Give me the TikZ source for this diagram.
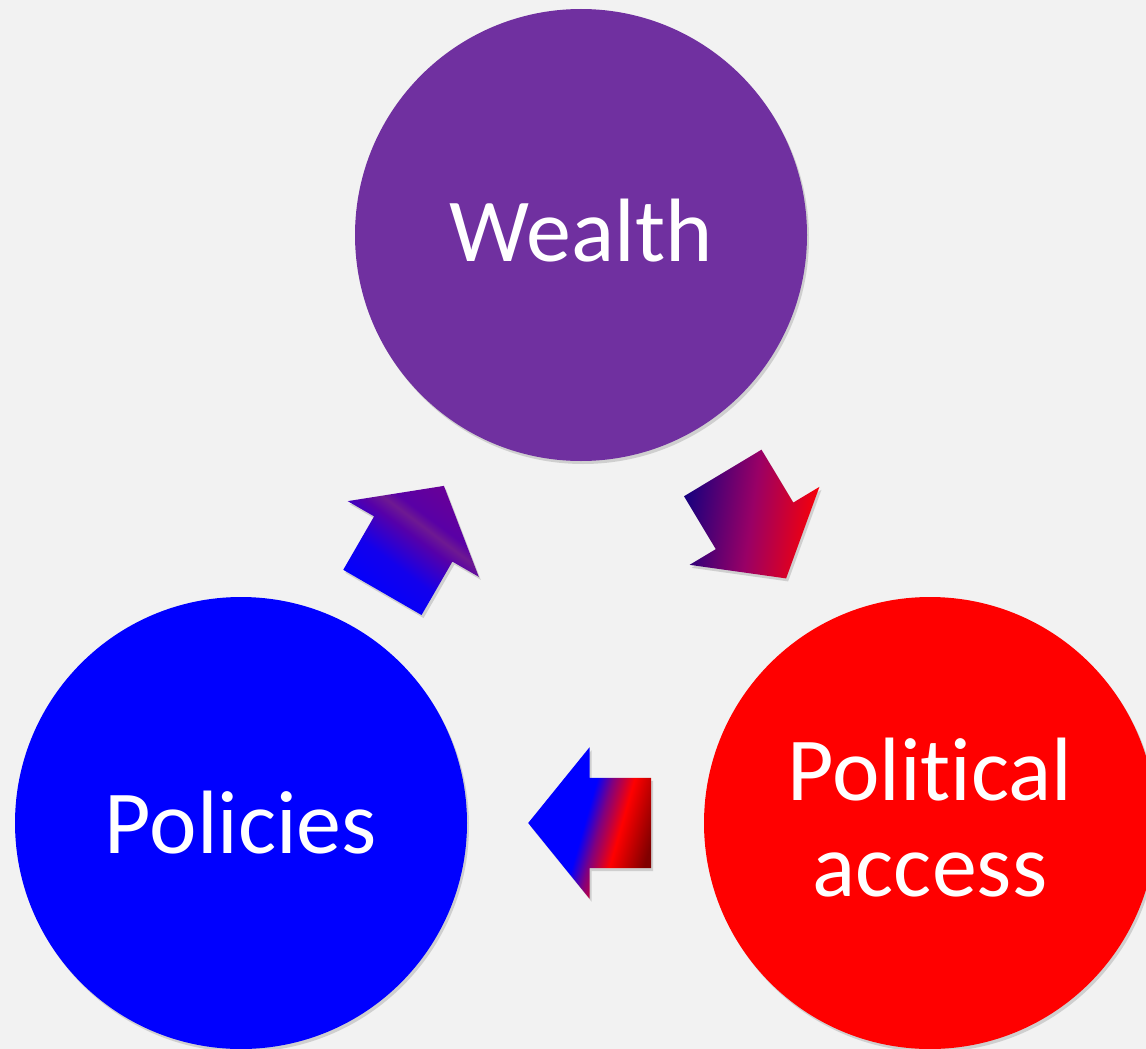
\documentclass[tikz,border=0pt]{standalone}
\usepackage{fontspec}
\setmainfont{Carlito}[Ligatures=NoCommon]
\usetikzlibrary{shapes.arrows,shadows,calc}

\definecolor{wealthpurple}{HTML}{7030A0}
\definecolor{bgray}{HTML}{F2F2F2}

% Gradients of the three arrows, from tail to tip
\pgfdeclarehorizontalshading{towealth}{100bp}{color(0bp)=(blue); color(25bp)=(blue);
    color(42bp)=(blue!85!violet); color(55bp)=(blue!55!purple); color(60bp)=(purple!55!blue!80!gray);
    color(64bp)=(violet!70!blue); color(75bp)=(violet!80!blue); color(100bp)=(violet!80!blue)}
\pgfdeclarehorizontalshading{toaccess}{100bp}{color(0bp)=(blue!55!black!90!red); color(25bp)=(blue!55!black!90!red);
    color(50bp)=(purple!80!blue); color(75bp)=(red!95!purple); color(100bp)=(red!95!purple)}
\pgfdeclarehorizontalshading{topolicies}{100bp}{color(0bp)=(red!50!black); color(25bp)=(red!50!black);
    color(38bp)=(red); color(46bp)=(blue!50!red); color(52bp)=(blue); color(100bp)=(blue)}

\begin{document}
\begin{tikzpicture}[x=1pt,y=-1pt,
    stage/.style={circle,minimum size=452pt,inner sep=0pt,text=white,align=center,
        font=\fontsize{90}{96}\selectfont,
        drop shadow={shadow xshift=2pt,shadow yshift=-3pt,opacity=0.3}},
    flow/.style={single arrow,minimum height=123pt,inner xsep=0pt,inner ysep=45pt,
        single arrow head extend=30.5pt,single arrow tip angle=102,
        drop shadow={shadow xshift=2pt,shadow yshift=-3pt,opacity=0.3}}]
    % Background
    \fill[bgray] (0,0) rectangle (1146,1049);
    \useasboundingbox (0,0) rectangle (1146,1049);
    \clip (0,0) rectangle (1146,1049);
    % Draw circles
    \node[stage,fill=wealthpurple,text depth=10pt] (wealth) at (581,235) {Wealth};
    \node[stage,fill=blue] (policies) at (241,823) {Policies};
    \node[stage,fill=red,text depth=12pt] (access) at (930,823) {Political\\access};
    % Draw arrows between them (shading angle is taken on the page)
    \node[flow,shading=towealth,rotate=60,shading angle=53]
        (policiesToWealth) at ($(policies)!0.5!(wealth)+(-7,26)$) {};
    \node[flow,shading=toaccess,rotate=-59,shading angle=-8]
        (wealthToAccess) at ($(wealth)!0.5!(access)+(-10.5,-19)$) {};
    \node[flow,shading=topolicies,rotate=180,shading angle=164]
        (accessToPolicies) at ($(access)!0.5!(policies)+(22.5,0)$) {};
\end{tikzpicture}
\end{document}
